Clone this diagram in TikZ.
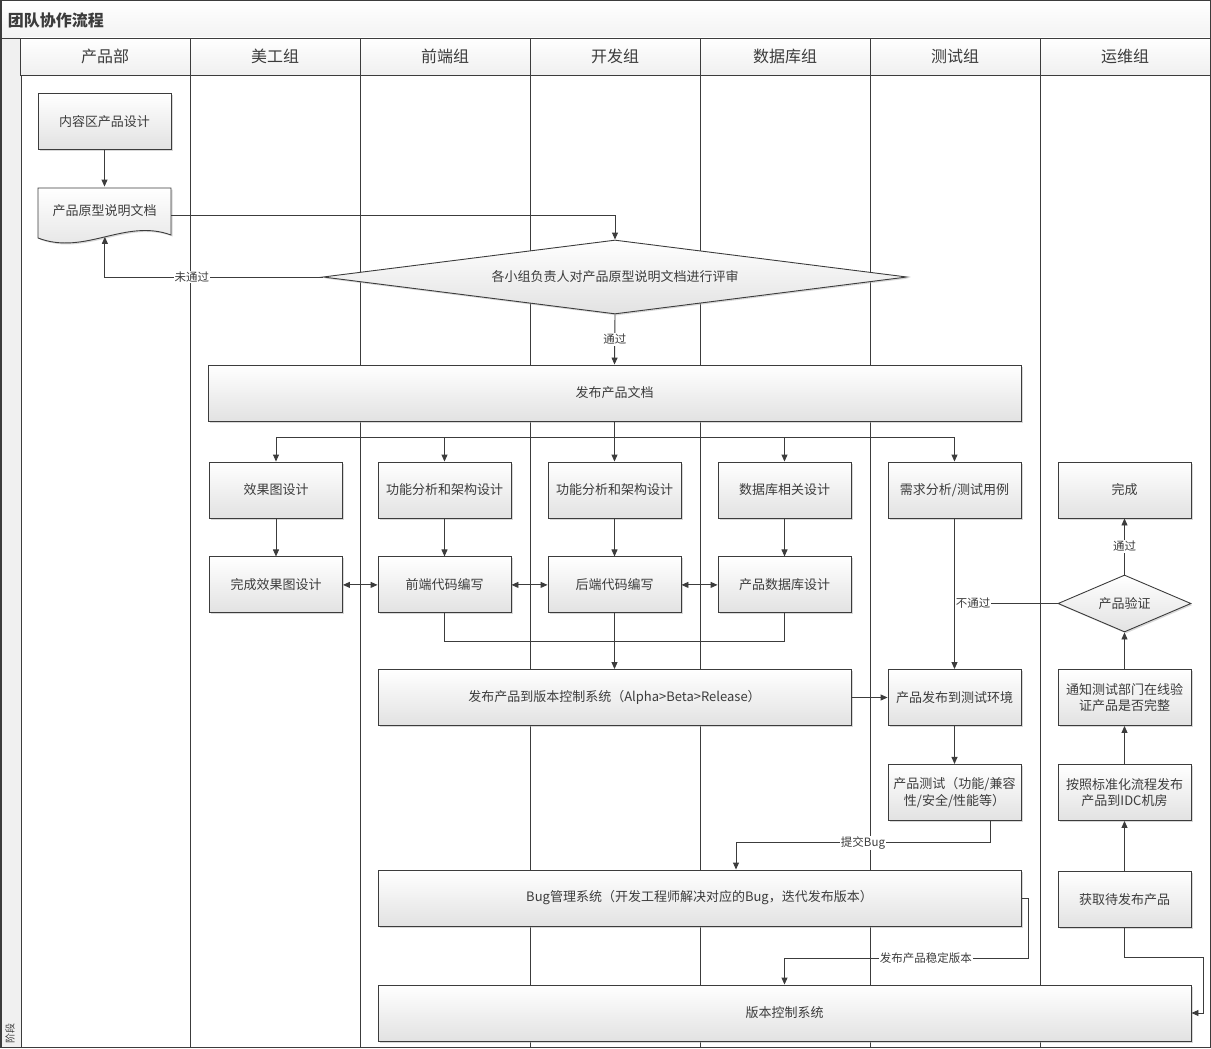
\documentclass[tikz,border=0pt]{standalone}
\usepackage{fontspec}
\setmainfont{Noto Sans CJK SC}
\usetikzlibrary{positioning,shapes.geometric,shadows,arrows.meta}

\definecolor{linec}{HTML}{3C3C3C}
\definecolor{shadec}{HTML}{E2E2E2}
\newcommand{\fcBox}{\fontsize{13pt}{16.5pt}\selectfont}
\newcommand{\fcHead}{\fontsize{16pt}{19pt}\selectfont}
\newcommand{\fcTitle}{\fontsize{16pt}{19pt}\selectfont\bfseries}
\newcommand{\fcLabel}{\fontsize{11.5pt}{14pt}\selectfont}
\newcommand{\fcPhase}{\fontsize{10pt}{12pt}\selectfont}

\begin{document}
\begin{tikzpicture}[x=1pt,y=-1pt,line width=.9pt,color=linec,node distance=38pt,>={Triangle[length=7pt,width=6pt]},
		shade/.style={top color=white,bottom color=shadec,drop shadow={shadow xshift=1.5pt,shadow yshift=-1.5pt,fill=black!30,opacity=.5}},
		box/.style={draw,rectangle,shade,minimum width=133pt,minimum height=56pt,inner sep=2pt,align=center,font=\fcBox},
		decision/.style={box,diamond,aspect=2.3},
		doc/.style={rectangle,minimum width=133pt,minimum height=48pt,inner sep=2pt,align=center,font=\fcBox},
		lanehead/.style={draw,minimum width=170pt,minimum height=37pt,inner sep=0pt,top color=white,bottom color=gray!12,font=\fcHead},
		lbl/.style={fill=white,inner sep=1pt,font=\fcLabel}]
		\useasboundingbox (0,0) rectangle (1211,1049);
		\node[draw,anchor=north west,minimum height=38pt,inner xsep=7pt,text width=1195pt,align=left,top color=white,bottom color=gray!10,font=\fcTitle] (Title) at (0.5,0.5) {团队协作流程};
		\node[draw,anchor=north west,minimum width=20pt,minimum height=1009pt,inner sep=0pt,fill=gray!12] (PhaseBar) at (0.5,38) {};
		\node[rotate=90,anchor=west,inner sep=0pt,font=\fcPhase] (PhaseText) at (10,1044) {阶段};
		\foreach \lane [count=\i from 0] in {产品部,美工组,前端组,开发组,数据库组,测试组,运维组}
			\node[lanehead] (Head\i) at (105+170*\i,56.5) {\lane};
		\foreach \x in {190,360,...,1040}
			\draw (\x,75) -- (\x,1047);
		\draw (0.5,0.5) rectangle (1210,1047);

		\node[box]                       (ProductDesign) at (104.5,121.5) {内容区产品设计};
		\path[draw,shade] (38,188) -- (171,188) -- (171,235) .. controls (125,218) and (85,256) .. coordinate[pos=.5] (ProtoDocBottom) (38,238) -- cycle;
		\node[doc]                       (ProtoDoc)      at (104.5,211)   {产品原型说明文档};
		\node[decision,minimum width=584pt,minimum height=74pt,aspect=7.9]
		                                 (Review)        at (615,277)     {各小组负责人对产品原型说明文档进行评审};
		\node[box,minimum width=813pt]   (PublishDoc)    at (614.5,393)   {发布产品文档};

		\node[box]                       (EffectDesign)  at (276,490)     {效果图设计};
		\node[box]                       (FrontAnalysis) at (444.5,490)   {功能分析和架构设计};
		\node[box]                       (DevAnalysis)   at (614.5,490)   {功能分析和架构设计};
		\node[box]                       (DbDesign)      at (784.5,490)   {数据库相关设计};
		\node[box]                       (TestCases)     at (954.5,490)   {需求分析/测试用例};
		\node[box]                       (Done)          at (1124.5,490)  {完成};
		\node[box,below=of EffectDesign] (EffectFinish)  {完成效果图设计};
		\node[box,below=of FrontAnalysis](FrontCode)     {前端代码编写};
		\node[box,below=of DevAnalysis]  (BackCode)      {后端代码编写};
		\node[box,below=of DbDesign]     (DbBuild)       {产品数据库设计};
		\node[decision,minimum height=57pt]
		                                 (Verify)        at (1124.5,603.5) {产品验证};

		\node[box,minimum width=473pt]   (PublishVcs)    at (614.5,697.5) {发布产品到版本控制系统（Alpha>Beta>Release）};
		\node[box]                       (TestEnv)       at (954.5,697.5) {产品发布到测试环境};
		\node[box,below=of TestEnv]      (Testing)       {产品测试（功能/兼容\\性/安全/性能等）};
		\node[box]                       (Notify)        at (1124.5,697.5) {通知测试部门在线验\\证产品是否完整};
		\node[box]                       (Deploy)        at (1124.5,792.5) {按照标准化流程发布\\产品到IDC机房};
		\node[box,minimum width=643pt]   (BugSystem)     at (699.5,898)   {Bug管理系统（开发工程师解决对应的Bug，迭代发布版本）};
		\node[box]                       (Fetch)         at (1124.5,899.5) {获取待发布产品};
		\node[box,minimum width=813pt]   (VcsSystem)     at (784.5,1013)  {版本控制系统};

		\coordinate[below=16pt of PublishDoc.south] (Split);
		\coordinate[below=28pt of BackCode.south]   (Merge);

		\draw[->] (ProductDesign) -- (ProtoDoc.north);
		\draw[->] ([yshift=-4pt]ProtoDoc.east) -| (Review.north);
		\draw[->] (Review.west) -| (ProtoDocBottom) node[lbl,pos=.3] {未通过};
		\draw[->] (Review.south) -- (PublishDoc.north) node[lbl,midway] {通过};
		\draw (PublishDoc.south) -- (Split);
		\foreach \n in {EffectDesign,FrontAnalysis,DevAnalysis,DbDesign,TestCases}
			\draw[->] (Split) -| (\n.north);
		\draw[->] (EffectDesign) -- (EffectFinish);
		\draw[->] (FrontAnalysis) -- (FrontCode);
		\draw[->] (DevAnalysis) -- (BackCode);
		\draw[->] (DbDesign) -- (DbBuild);
		\draw[<->] (EffectFinish) -- (FrontCode);
		\draw[<->] (FrontCode) -- (BackCode);
		\draw[<->] (BackCode) -- (DbBuild);
		\draw (FrontCode.south) |- (Merge) -| (DbBuild.south);
		\draw[->] (BackCode) -- (PublishVcs);
		\draw[->] (PublishVcs) -- (TestEnv);
		\draw[->] (TestCases) -- (TestEnv);
		\draw (Verify) -- (Verify -| TestEnv) node[lbl,pos=.82] {不通过};
		\draw[->] (TestEnv) -- (Testing);
		\draw[->] ([xshift=35.5pt]Testing.south) -- ++(0,22) -| ([xshift=36.5pt]BugSystem.north) node[lbl,pos=.25] {提交Bug};
		\draw[->] (BugSystem.east) -- ++(7,0) -- ++(0,60) -| (VcsSystem.north) node[lbl,pos=.21] {发布产品稳定版本};
		\draw[->] (Fetch.south) -- ++(0,29) -| ([xshift=12pt]VcsSystem.east) -- (VcsSystem.east);
		\draw[->] (Fetch) -- (Deploy);
		\draw[->] (Deploy) -- (Notify);
		\draw[->] (Notify) -- (Verify);
		\draw[->] (Verify) -- (Done) node[lbl,midway] {通过};
	\end{tikzpicture}
\end{document}
